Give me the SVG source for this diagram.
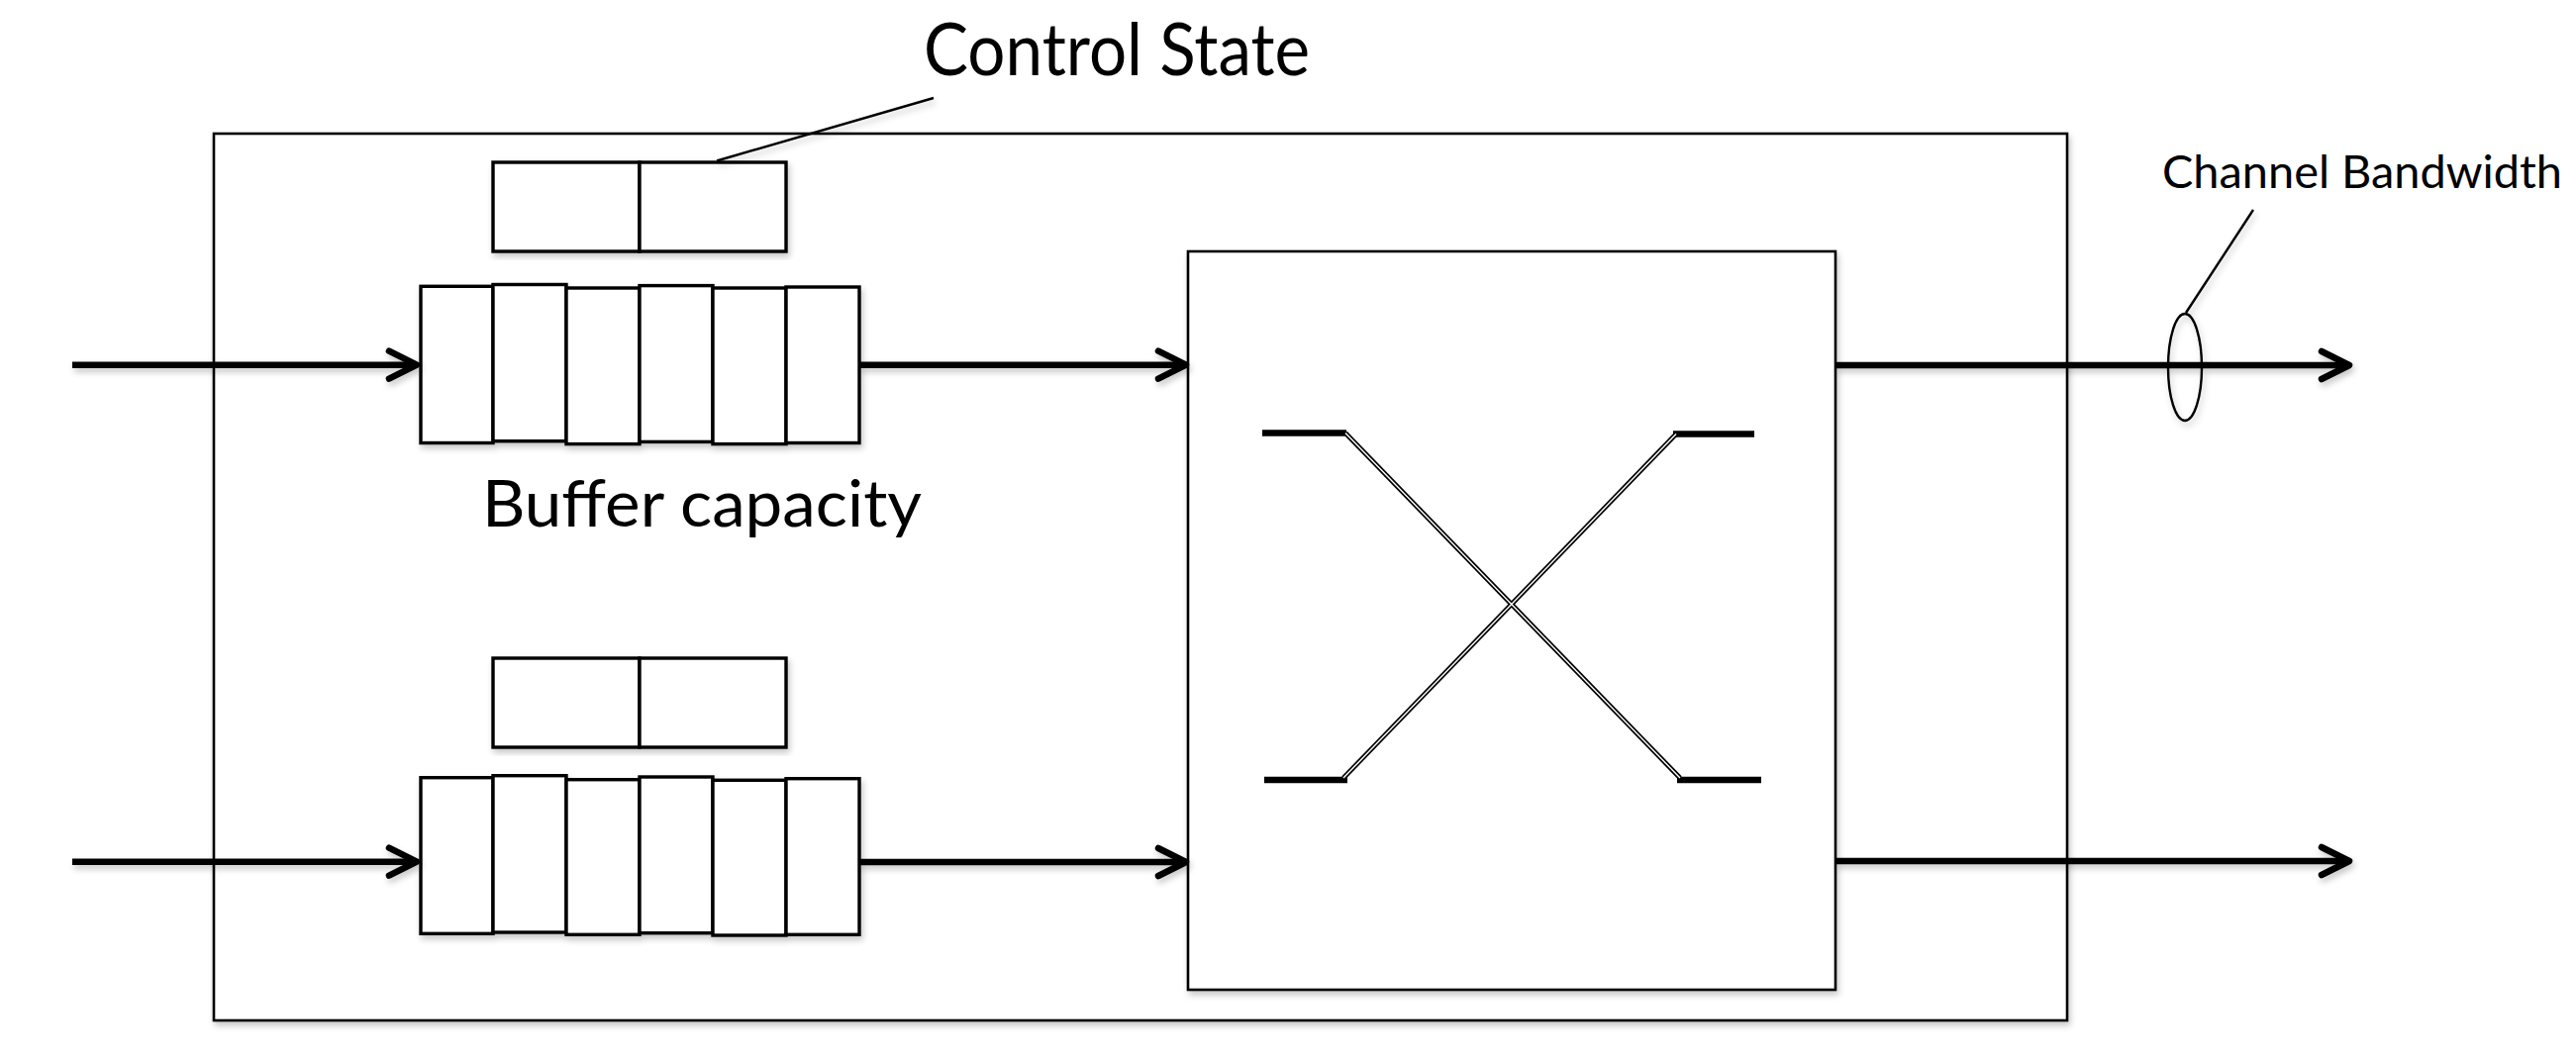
<svg xmlns="http://www.w3.org/2000/svg" width="2602" height="1072" viewBox="0 0 2602 1072">
<style>
.frame{fill:#fff;stroke:#000;stroke-width:2.6}
.cell{fill:#fff;stroke:#000;stroke-width:3.4}
.wire{stroke:#000;stroke-width:6.5;fill:none;stroke-linecap:butt}
.thin{stroke:#000;stroke-width:2.4;fill:none}
.bar{stroke:#000;stroke-width:6.5;fill:none}
.dbl-out{stroke:#000;stroke-width:4.8;fill:none}
.dbl-in{stroke:#fff;stroke-width:1.4;fill:none}
.lbl{font-family:Lato,"Open Sans","Liberation Sans",sans-serif;fill:#000}
</style>
<defs>
<filter id="sh" x="-5%" y="-5%" width="110%" height="115%">
<feDropShadow dx="2" dy="4" stdDeviation="3" flood-color="#000" flood-opacity="0.22"/>
</filter>
<marker id="arr" markerUnits="userSpaceOnUse" viewBox="-36 -20 40 40" markerWidth="40" markerHeight="40" refX="0" refY="0" orient="auto" overflow="visible">
<path d="M-28,-14 L0,0 L-28,14" fill="none" stroke="#000" stroke-width="6.5" stroke-linecap="round" stroke-linejoin="round"/>
</marker>
</defs>
<rect width="2602" height="1072" fill="#fff"/>

<g id="router" filter="url(#sh)">
<rect class="frame" x="216" y="135" width="1872" height="896"/>
</g>

<g id="switch" filter="url(#sh)">
<rect class="frame" x="1200" y="254" width="654" height="746"/>
<line class="bar" x1="1275" y1="437.5" x2="1360" y2="437.5"/>
<line class="bar" x1="1690" y1="438.5" x2="1772" y2="438.5"/>
<line class="bar" x1="1277" y1="788" x2="1361" y2="788"/>
<line class="bar" x1="1694" y1="788" x2="1779" y2="788"/>
<line class="dbl-out" x1="1359" y1="437.5" x2="1697" y2="786"/>
<line class="dbl-out" x1="1693" y1="438.5" x2="1357" y2="786"/>
<line class="dbl-in" x1="1359" y1="437.5" x2="1697" y2="786"/>
<line class="dbl-in" x1="1693" y1="438.5" x2="1357" y2="786"/>
</g>

<g id="control-state-1" filter="url(#sh)">
<rect class="cell" x="498" y="164" width="148" height="90"/>
<rect class="cell" x="646" y="164" width="148" height="90"/>
</g>

<g id="buffer-1" filter="url(#sh)">
<rect class="cell" x="425" y="289.3" width="73" height="158.2"/>
<rect class="cell" x="498" y="287.5" width="74" height="158.2"/>
<rect class="cell" x="572" y="291" width="74" height="157.6"/>
<rect class="cell" x="646" y="288.6" width="74" height="157.8"/>
<rect class="cell" x="720" y="291" width="74" height="157.6"/>
<rect class="cell" x="794" y="290" width="74" height="157.5"/>
</g>

<g id="control-state-2" filter="url(#sh)">
<rect class="cell" x="498" y="665" width="148" height="90"/>
<rect class="cell" x="646" y="665" width="148" height="90"/>
</g>

<g id="buffer-2" filter="url(#sh)">
<rect class="cell" x="425" y="785.7" width="73" height="157.6"/>
<rect class="cell" x="498" y="783.7" width="74" height="158.3"/>
<rect class="cell" x="572" y="787.7" width="74" height="156.6"/>
<rect class="cell" x="646" y="785" width="74" height="157.7"/>
<rect class="cell" x="720" y="788.3" width="74" height="156.7"/>
<rect class="cell" x="794" y="786.7" width="74" height="157.6"/>
</g>

<g id="connectors" filter="url(#sh)">
<line class="wire" x1="73" y1="368.7" x2="421" y2="368.7" marker-end="url(#arr)"/>
<line class="wire" x1="868" y1="368.7" x2="1198" y2="368.7" marker-end="url(#arr)"/>
<line class="wire" x1="1854" y1="369" x2="2373" y2="369" marker-end="url(#arr)"/>
<line class="wire" x1="73" y1="870.7" x2="421" y2="870.7" marker-end="url(#arr)"/>
<line class="wire" x1="868" y1="871" x2="1198" y2="871" marker-end="url(#arr)"/>
<line class="wire" x1="1854" y1="870" x2="2373" y2="870" marker-end="url(#arr)"/>
<line class="thin" x1="943" y1="99" x2="724" y2="162.5"/>
<line class="thin" x1="2276" y1="212" x2="2208" y2="316"/>
<ellipse class="thin" cx="2207" cy="371" rx="17" ry="54"/>
</g>

<g id="labels">
<text class="lbl" x="933" y="76" font-size="73" textLength="390" lengthAdjust="spacingAndGlyphs">Control State</text>
<text class="lbl" x="487" y="532" font-size="65" textLength="444" lengthAdjust="spacingAndGlyphs">Buffer capacity</text>
<text class="lbl" x="2184" y="190" font-size="47" textLength="404" lengthAdjust="spacingAndGlyphs">Channel Bandwidth</text>
</g>
</svg>
